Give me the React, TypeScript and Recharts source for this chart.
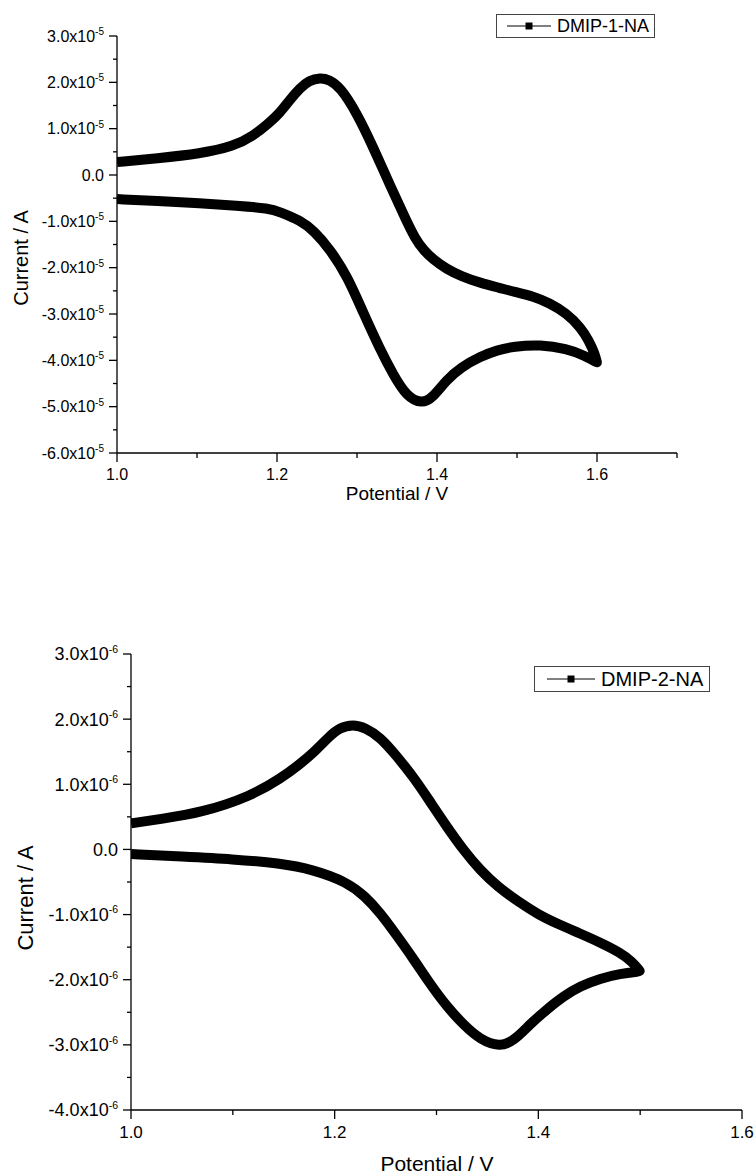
import React from 'react';
import { LineChart, Line, XAxis, YAxis, Legend, Label } from 'recharts';

const FONT = '"Liberation Sans", Arial, Helvetica, sans-serif';

// ---------- Chart 1: DMIP-1-NA (current in units of 1e-5 A), scan order ----------
const seriesName1 = 'DMIP-1-NA';
const potential1 = [
  1.0, 1.05, 1.104, 1.15, 1.19, 1.204, 1.229, 1.246, 1.267, 1.288, 1.308, 1.329, 1.345, 1.362, 1.381,
  1.395, 1.412, 1.43, 1.454, 1.475, 1.496, 1.529, 1.562, 1.585, 1.6,
  1.6, 1.597, 1.59, 1.58, 1.562, 1.54, 1.521, 1.496, 1.479, 1.454, 1.43, 1.412, 1.395, 1.383, 1.372, 1.362,
  1.342, 1.32, 1.3, 1.279, 1.265, 1.254, 1.24, 1.229, 1.215, 1.204, 1.19, 1.17, 1.146, 1.104, 1.05, 1.0,
];
const current1 = [
  -0.52, -0.56, -0.61, -0.66, -0.72, -0.8, -0.98, -1.2, -1.62, -2.19, -2.98, -3.77, -4.3, -4.78, -4.94,
  -4.8, -4.42, -4.15, -3.92, -3.78, -3.7, -3.66, -3.75, -3.9, -4.05,
  -4.05, -3.85, -3.58, -3.3, -2.98, -2.76, -2.62, -2.52, -2.44, -2.33, -2.18, -2.03, -1.82, -1.62, -1.35, -1.0,
  -0.25, 0.61, 1.33, 1.9, 2.06, 2.1, 2.04, 1.88, 1.6, 1.35, 1.12, 0.84, 0.62, 0.46, 0.36, 0.28,
];
const xTicks1 = [1.0, 1.1, 1.2, 1.3, 1.4, 1.5, 1.6, 1.7];
const yTicks1 = [-6, -5.5, -5, -4.5, -4, -3.5, -3, -2.5, -2, -1.5, -1, -0.5, 0, 0.5, 1, 1.5, 2, 2.5, 3];
const yExp1 = '-5';

// ---------- Chart 2: DMIP-2-NA (current in units of 1e-6 A), scan order ----------
const seriesName2 = 'DMIP-2-NA';
const potential2 = [
  1.0, 1.05, 1.1, 1.146, 1.179, 1.212, 1.23, 1.245, 1.26, 1.277, 1.293, 1.31, 1.327, 1.343, 1.362,
  1.376, 1.392, 1.408, 1.425, 1.441, 1.461, 1.48, 1.5,
  1.5, 1.492, 1.48, 1.461, 1.441, 1.42, 1.4, 1.38, 1.36, 1.343, 1.327, 1.31, 1.293, 1.277, 1.26, 1.245,
  1.23, 1.218, 1.205, 1.195, 1.179, 1.165, 1.148, 1.117, 1.068, 1.03, 1.0,
];
const current2 = [
  -0.07, -0.11, -0.15, -0.21, -0.31, -0.5, -0.72, -0.98, -1.3, -1.67, -2.05, -2.41, -2.7, -2.92, -3.03,
  -2.94, -2.68, -2.46, -2.25, -2.1, -1.98, -1.91, -1.87,
  -1.87, -1.72, -1.58, -1.43, -1.29, -1.15, -1.0, -0.8, -0.57, -0.32, -0.02, 0.35, 0.75, 1.12, 1.45, 1.72,
  1.87, 1.92, 1.87, 1.74, 1.48, 1.3, 1.1, 0.81, 0.56, 0.47, 0.4,
];
const xTicks2 = [1.0, 1.1, 1.2, 1.3, 1.4, 1.5, 1.6];
const yTicks2 = [-4, -3.5, -3, -2.5, -2, -1.5, -1, -0.5, 0, 0.5, 1, 1.5, 2, 2.5, 3];
const yExp2 = '-6';

const xTitle = 'Potential / V';
const yTitle = 'Current / A';

const data1 = potential1.map((p, i) => ({ potential: p, current: current1[i] }));
const data2 = potential2.map((p, i) => ({ potential: p, current: current2[i] }));

function makeYTick(fontSize: number, supSize: number, exp: string) {
  return (props: any) => {
    const { x, y, payload } = props;
    const v = payload.value as number;
    const major = Math.abs(v - Math.round(v)) < 1e-6;
    const len = major ? 8 : 4;
    return (
      <g>
        <line x1={x} x2={x - len} y1={y} y2={y} stroke="#000" strokeWidth={1.3} />
        {major && (
          <text
            x={x - len - 5}
            y={y + fontSize * 0.36}
            textAnchor="end"
            fontFamily={FONT}
            fontSize={fontSize}
            fill="#000"
          >
            {v === 0 ? (
              '0.0'
            ) : (
              <>
                {v.toFixed(1)}x10
                <tspan dy={-fontSize * 0.42} fontSize={supSize}>
                  {exp}
                </tspan>
              </>
            )}
          </text>
        )}
      </g>
    );
  };
}

function makeXTick(fontSize: number, baseline: number) {
  return (props: any) => {
    const { x, y, payload } = props;
    const v = payload.value as number;
    const major = Math.round(v * 10) % 2 === 0;
    const len = major ? 9 : 5;
    return (
      <g>
        <line x1={x} x2={x} y1={y} y2={y + len} stroke="#000" strokeWidth={1.3} />
        {major && (
          <text x={x} y={y + baseline} textAnchor="middle" fontFamily={FONT} fontSize={fontSize} fill="#000">
            {v.toFixed(1)}
          </text>
        )}
      </g>
    );
  };
}

function makeLegend(name: string, fontSize: number, symW: number, padL: number, padR: number, h: number) {
  return () => (
    <div
      style={{
        display: 'inline-flex',
        alignItems: 'center',
        border: '1px solid #444',
        height: h,
        boxSizing: 'border-box',
        padding: `0 ${padR}px 0 ${padL}px`,
        background: '#fff',
        fontFamily: FONT,
        fontSize,
        lineHeight: 1,
        whiteSpace: 'nowrap',
        color: '#000',
      }}
    >
      <svg width={symW} height={10} style={{ display: 'block' }}>
        <line x1={0} x2={symW} y1={5} y2={5} stroke="#000" strokeWidth={1} />
        <rect x={symW / 2 - 3.5} y={1.5} width={7} height={7} fill="#000" />
      </svg>
      <span style={{ marginLeft: 6 }}>{name}</span>
    </div>
  );
}

function xTitleContent(cx: number, baseline: number, fontSize: number) {
  return () => (
    <text x={cx} y={baseline} textAnchor="middle" fontFamily={FONT} fontSize={fontSize} fill="#000">
      {xTitle}
    </text>
  );
}

function yTitleContent(cx: number, cy: number, fontSize: number) {
  return () => (
    <text
      x={cx}
      y={cy + fontSize * 0.36}
      transform={`rotate(-90 ${cx} ${cy})`}
      textAnchor="middle"
      fontFamily={FONT}
      fontSize={fontSize}
      fill="#000"
    >
      {yTitle}
    </text>
  );
}

const axisLine = { stroke: '#000', strokeWidth: 1.3 };

export default function App() {
  return (
    <div style={{ position: 'absolute', left: 0, top: 0, width: 756, height: 1175, background: '#fff' }}>
      <div style={{ position: 'absolute', left: 0, top: 0 }}>
        <LineChart width={756} height={540} data={data1} margin={{ top: 36, right: 79, left: 0, bottom: 43 }}>
          <XAxis
            dataKey="potential"
            type="number"
            domain={[1.0, 1.7]}
            ticks={xTicks1}
            interval={0}
            allowDataOverflow
            height={44}
            tickSize={0}
            tickMargin={0}
            tickLine={false}
            axisLine={axisLine}
            tick={makeXTick(16, 27)}
          >
            <Label content={xTitleContent(397, 500, 19)} />
          </XAxis>
          <YAxis
            type="number"
            domain={[-6, 3]}
            ticks={yTicks1}
            interval={0}
            allowDataOverflow
            width={117}
            tickSize={0}
            tickMargin={0}
            tickLine={false}
            axisLine={axisLine}
            tick={makeYTick(16, 10, yExp1)}
          >
            <Label content={yTitleContent(21, 258, 20)} />
          </YAxis>
          <Legend
            layout="vertical"
            align="center"
            verticalAlign="middle"
            content={makeLegend(seriesName1, 18, 44, 10, 5, 24)}
            wrapperStyle={{ left: 496, top: 14, width: 'auto', height: 'auto' }}
          />
          <Line
            name={seriesName1}
            dataKey="current"
            type="basis"
            stroke="#000"
            strokeWidth={10}
            strokeLinejoin="round"
            dot={false}
            activeDot={false}
            isAnimationActive={false}
          />
        </LineChart>
      </div>
      <div style={{ position: 'absolute', left: 0, top: 560 }}>
        <LineChart width={756} height={615} data={data2} margin={{ top: 94, right: 14, left: 0, bottom: 4 }}>
          <XAxis
            dataKey="potential"
            type="number"
            domain={[1.0, 1.6]}
            ticks={xTicks2}
            interval={0}
            allowDataOverflow
            height={61}
            tickSize={0}
            tickMargin={0}
            tickLine={false}
            axisLine={axisLine}
            tick={makeXTick(17, 28)}
          >
            <Label content={xTitleContent(437, 611, 21)} />
          </XAxis>
          <YAxis
            type="number"
            domain={[-4, 3]}
            ticks={yTicks2}
            interval={0}
            allowDataOverflow
            width={131}
            tickSize={0}
            tickMargin={0}
            tickLine={false}
            axisLine={axisLine}
            tick={makeYTick(18, 10.5, yExp2)}
          >
            <Label content={yTitleContent(25, 338, 22)} />
          </YAxis>
          <Legend
            layout="vertical"
            align="center"
            verticalAlign="middle"
            content={makeLegend(seriesName2, 20, 48, 12, 6, 26)}
            wrapperStyle={{ left: 534, top: 106, width: 'auto', height: 'auto' }}
          />
          <Line
            name={seriesName2}
            dataKey="current"
            type="basis"
            stroke="#000"
            strokeWidth={10}
            strokeLinejoin="round"
            dot={false}
            activeDot={false}
            isAnimationActive={false}
          />
        </LineChart>
      </div>
    </div>
  );
}
